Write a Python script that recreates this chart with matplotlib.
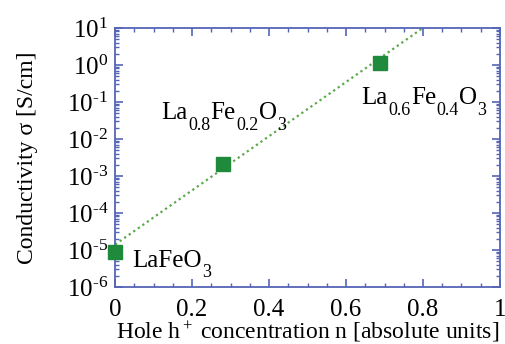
import numpy as np
import matplotlib
matplotlib.use("Agg")
import matplotlib.pyplot as plt
from matplotlib.ticker import MultipleLocator, LogLocator, NullFormatter, FuncFormatter

# font setup - Times-like look
plt.rcParams['font.family'] = 'Liberation Serif'
plt.rcParams['mathtext.fontset'] = 'custom'
plt.rcParams['mathtext.rm'] = 'Liberation Serif'
plt.rcParams['mathtext.it'] = 'Liberation Serif:italic'

# data
hole_conc = [0.0, 0.28, 0.688]
conductivity = [9e-6, 2.1e-3, 1.1]
# compound names split in (text, is_subscript) pieces
labels = [
    [('LaFeO', False), ('3', True)],
    [('La', False), ('0.8', True), ('Fe', False), ('0.2', True), ('O', False), ('3', True)],
    [('La', False), ('0.6', True), ('Fe', False), ('0.4', True), ('O', False), ('3', True)],
]
label_pos = [(0.045, 2.6e-6), (0.12, 2.5e-2), (0.64, 6.5e-2)]

# dotted fit line end points
fit_x = [0.0, 0.8]
fit_y = [1.4e-5, 10.0]

frame_col = '#5565b5'

fig = plt.figure(figsize=(5.05, 3.44), dpi=100)
ax = fig.add_axes([0.228, 0.166, 0.762, 0.753])

ax.plot(fit_x, fit_y, linestyle=(0, (1, 1.5)), color='#5aa84a', lw=1.6)
ax.plot(hole_conc, conductivity, 's', color='#1f8a3c', markersize=10.5,
        markeredgecolor='#1f8a3c', clip_on=False, zorder=5)

ax.set_yscale('log')
ax.set_xlim(0, 1)
ax.set_ylim(1e-6, 1e1)


# short hyphen in the exponent like the original
def log_fmt(v, pos):
    e = int(round(np.log10(v)))
    s = str(e).replace('-', '\u2010')
    return '$10^{%s}$' % s


ax.xaxis.set_major_locator(MultipleLocator(0.2))
ax.xaxis.set_minor_locator(MultipleLocator(0.05))
ax.yaxis.set_major_locator(LogLocator(base=10, numticks=20))
ax.yaxis.set_major_formatter(FuncFormatter(log_fmt))
ax.yaxis.set_minor_locator(LogLocator(base=10, subs=np.arange(2, 10), numticks=20))
ax.yaxis.set_minor_formatter(NullFormatter())
ax.set_xticks([0, 0.2, 0.4, 0.6, 0.8, 1.0])
ax.set_xticklabels(['0', '0.2', '0.4', '0.6', '0.8', '1'])

for s in ax.spines.values():
    s.set_color(frame_col)
    s.set_linewidth(1.3)
ax.tick_params(which='both', direction='in', top=True, right=True,
               color=frame_col, labelsize=18)
ax.tick_params(axis='x', pad=9)
ax.tick_params(axis='y', pad=5)
ax.tick_params(which='major', length=6, width=1.2)
ax.tick_params(which='minor', length=3, width=1.0)

ax.set_xlabel('Hole h$^+$ concentration n [absolute units]', fontsize=17)
ax.set_ylabel('Conductivity σ [S/cm]', fontsize=17)
ax.xaxis.set_label_coords(0.5, -0.125)
ax.yaxis.set_label_coords(-0.2, 0.5)


# chemical formula with deep subscripts, each piece placed after the last
def chem_label(x, y, parts):
    t = ax.text(x, y, parts[0][0], fontsize=18, va='bottom', ha='left')
    prev_sub = False
    for txt, sub in parts[1:]:
        if sub:
            dy = -7
        elif prev_sub:
            dy = 7
        else:
            dy = 0
        t = ax.annotate(txt, xy=(1, 0), xycoords=t, xytext=(0.3, dy),
                        textcoords='offset points', va='bottom', ha='left',
                        fontsize=13 if sub else 18)
        prev_sub = sub


for (x, y), parts in zip(label_pos, labels):
    chem_label(x, y, parts)

fig.savefig('out.png', dpi=100)
